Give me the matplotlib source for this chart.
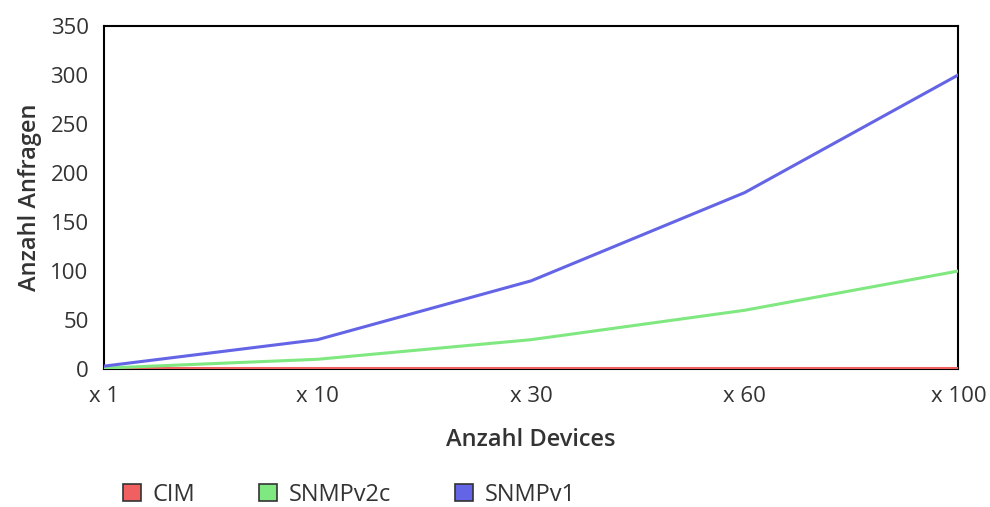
import matplotlib
matplotlib.use("Agg")
import matplotlib.pyplot as plt
from matplotlib.patches import Patch

categories = ["x 1", "x 10", "x 30", "x 60", "x 100"]
cim = [1, 1, 1, 1, 1]
snmpv2c = [1, 10, 30, 60, 100]
snmpv1 = [3, 30, 90, 180, 300]
yticks = [0, 50, 100, 150, 200, 250, 300, 350]

plt.rcParams['font.family'] = ['Open Sans', 'DejaVu Sans']

fig = plt.figure(figsize=(9.9, 5.07), dpi=100)
ax = fig.add_axes([0.105, 0.272, 0.863, 0.677])

x = list(range(len(categories)))
colors = {"CIM": "#f06060", "SNMPv2c": "#80e880", "SNMPv1": "#6464e6"}
ax.plot(x, cim, color=colors["CIM"], lw=2.2, zorder=3)
ax.plot(x, snmpv2c, color=colors["SNMPv2c"], lw=2.2, zorder=3)
ax.plot(x, snmpv1, color=colors["SNMPv1"], lw=2.2, zorder=3)

ax.set_xlim(0, len(categories) - 1)
ax.set_ylim(0, 350)
ax.set_xticks(x)
ax.set_xticklabels(categories)
ax.set_yticks(yticks)
ax.tick_params(length=0, labelsize=16, colors="#333333", labelcolor="#333333")
ax.tick_params(axis='x', pad=12)
ax.tick_params(axis='y', pad=11)
for s in ax.spines.values():
    s.set_color("black")
    s.set_linewidth(1.5)

ax.set_xlabel("Anzahl Devices", fontsize=17, fontweight=600, color="#333333", labelpad=15)
ax.set_ylabel("Anzahl Anfragen", fontsize=17, fontweight=600, color="#333333", labelpad=6)

handles = [Patch(facecolor=colors[k], edgecolor="#333333", linewidth=1.2, label=k)
           for k in ["CIM", "SNMPv2c", "SNMPv1"]]
fig.legend(handles=handles, loc="center left", bbox_to_anchor=(0.124, 1 - 495 / 507), ncol=3,
           frameon=False, fontsize=17, handlelength=0.76, handleheight=0.76,
           handletextpad=0.51, columnspacing=2.7, labelcolor="#333333", borderpad=0,
           borderaxespad=0)

fig.savefig("out.png", dpi=100)
